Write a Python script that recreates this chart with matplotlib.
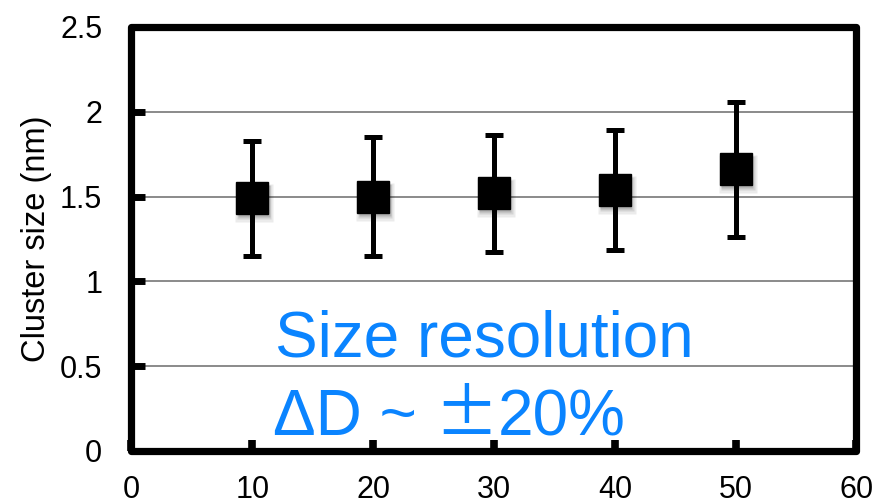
import matplotlib
matplotlib.use("Agg")
import matplotlib.pyplot as plt
from matplotlib.patches import Rectangle
from matplotlib.transforms import ScaledTranslation

plt.rcParams['font.family'] = ['Liberation Sans', 'DejaVu Sans']

# Cluster size vs. condition, with error bars
x_values = [10, 20, 30, 40, 50]
cluster_size = [1.49, 1.50, 1.52, 1.54, 1.66]
size_err = [0.34, 0.35, 0.345, 0.355, 0.40]
x_ticks = [0, 10, 20, 30, 40, 50, 60]
y_ticks = [0, 0.5, 1, 1.5, 2, 2.5]
y_tick_labels = ["0", "0.5", "1", "1.5", "2", "2.5"]

W, H = 879, 504
fig = plt.figure(figsize=(W / 100, H / 100), dpi=100)
ax = fig.add_axes([131.5 / W, 1 - 451 / H, (856.5 - 131.5) / W, (451 - 27) / H])
ax.set_xlim(0, 60)
ax.set_ylim(0, 2.5)

# gridlines
for yv in [0.5, 1, 1.5, 2]:
    ax.axhline(yv, color='#8a8a8a', lw=1.4, zorder=1)

# soft shadow under the square markers
for dx, dy, a, ms in [(2, -5, 0.08, 27), (2, -4, 0.10, 25), (1.5, -3, 0.14, 23.5)]:
    off = ax.transData + ScaledTranslation(dx / 100, dy / 100, fig.dpi_scale_trans)
    ax.plot(x_values, cluster_size, 's', ms=ms, color='black', alpha=a,
            mec='none', transform=off, zorder=2)

ax.errorbar(x_values, cluster_size, yerr=size_err, fmt='s', ms=23,
            color='black', mfc='black', mec='black', ecolor='black',
            elinewidth=3.6, capsize=6.2, capthick=3.6, zorder=3)

ax.set_xticks(x_ticks)
ax.set_xticklabels([str(t) for t in x_ticks])
ax.set_yticks(y_ticks)
ax.set_yticklabels(y_tick_labels)
ax.tick_params(axis='x', direction='in', length=8, width=5.5, pad=17.5,
               labelsize=22, top=False)
ax.tick_params(axis='y', direction='in', length=10, width=5, pad=21,
               labelsize=22, right=False)
ax.set_ylabel("Cluster size (nm)", fontsize=23.5, labelpad=6)

# heavy frame with rounded corners
for s in ax.spines.values():
    s.set_visible(False)
frame = Rectangle((0, 0), 1, 1, transform=ax.transAxes, fill=False,
                  lw=5.2, ec='black', joinstyle='round', clip_on=False, zorder=5)
ax.add_patch(frame)

blue = '#0A84FF'
ax.text(11.85, 0.556, "Size resolution", color=blue,
        fontsize=46, ha='left', va='baseline', zorder=4)
ax.text(11.7, 0.094, "ΔD ~", color=blue,
        fontsize=46, ha='left', va='baseline', zorder=4)
ax.text(27.68, 0.094, "±", color=blue, family=['Noto Sans CJK JP', 'DejaVu Sans'],
        fontsize=46, ha='center', va='baseline', zorder=4)
ax.text(30.3, 0.094, "20%", color=blue,
        fontsize=46, ha='left', va='baseline', zorder=4)

fig.savefig("out.png", dpi=100)
